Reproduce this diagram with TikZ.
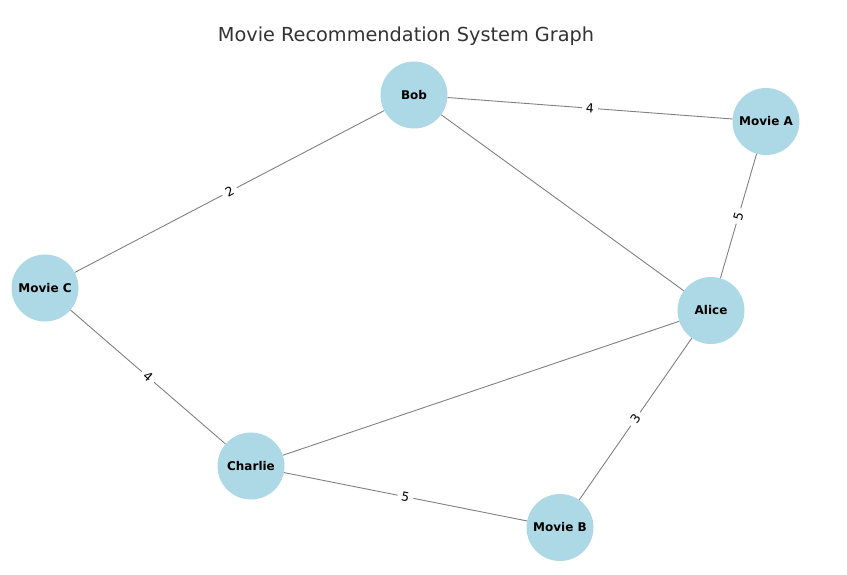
\documentclass[tikz,border=0pt]{standalone}
\usepackage{fontspec}
\setmainfont{DejaVu Sans}
\begin{document}
\begin{tikzpicture}[x=1pt,y=-1pt,
  vertex/.style={circle,fill=nodeblue,draw=none,minimum size=67pt,inner sep=0pt,font=\fontsize{12}{14}\selectfont\bfseries},
  edge/.style={draw=edgegray,line width=0.9pt},
  wlabel/.style={midway,sloped,fill=white,inner xsep=4pt,inner ysep=2pt,font=\fontsize{12.5}{14}\selectfont}]
\definecolor{nodeblue}{HTML}{ADD8E6}
\definecolor{edgegray}{HTML}{808080}
\definecolor{titlegray}{HTML}{333333}
\useasboundingbox (0,0) rectangle (847,574);
\node[text=titlegray,font=\fontsize{19.3}{22}\selectfont] (title) at (406,36) {Movie Recommendation System Graph};
\node[vertex] (bob) at (414,95) {Bob};
\node[vertex] (ma) at (766,121.5) {Movie A};
\node[vertex] (mc) at (45,288) {Movie C};
\node[vertex] (alice) at (711,310.5) {Alice};
\node[vertex] (charlie) at (251,466) {Charlie};
\node[vertex] (mb) at (560,527.5) {Movie B};
\path[edge] (bob) -- node[wlabel] (l1) {4} (ma);
\path[edge] (bob) -- node[wlabel] (l2) {2} (mc);
\path[edge] (bob) -- (alice);
\path[edge] (ma) -- node[wlabel] (l3) {5} (alice);
\path[edge] (mc) -- node[wlabel] (l4) {4} (charlie);
\path[edge] (alice) -- (charlie);
\path[edge] (alice) -- node[wlabel] (l5) {3} (mb);
\path[edge] (charlie) -- node[wlabel] (l6) {5} (mb);
\end{tikzpicture}
\end{document}
